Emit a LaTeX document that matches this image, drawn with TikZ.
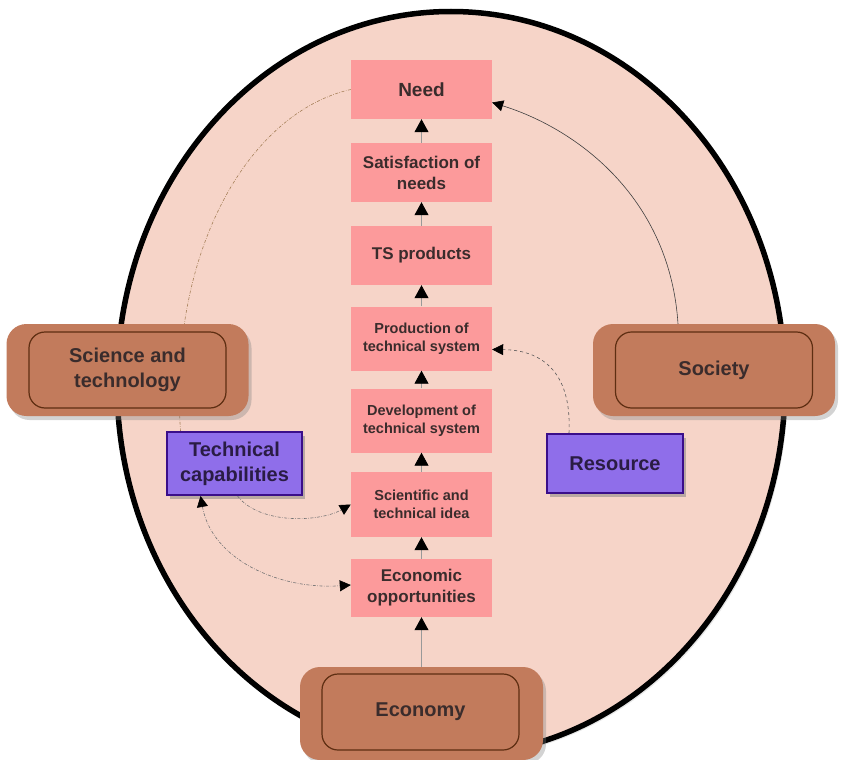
\documentclass[tikz,border=0pt]{standalone}
\usepackage{fontspec}
\setmainfont{Liberation Sans}
\usetikzlibrary{arrows.meta,shadows,shapes.geometric}
\definecolor{ellfill}{HTML}{F6D4C8}
\definecolor{pinkbox}{HTML}{FC9A9B}
\definecolor{brownfill}{HTML}{C27B5C}
\definecolor{brownline}{HTML}{5E2E12}
\definecolor{purplefill}{HTML}{8F6EEA}
\definecolor{purpleline}{HTML}{3A0E8A}
\definecolor{txt}{HTML}{3A2C2C}
\definecolor{ptxt}{HTML}{2A1C44}
\begin{document}
\begin{tikzpicture}[x=1pt,y=-1pt,
  stage/.style={rectangle, fill=pinkbox, minimum width=141pt, inner sep=0pt, align=center, text=txt},
  fbig/.style={font=\bfseries\fontsize{19}{23}\selectfont},
  fmid/.style={font=\bfseries\fontsize{17}{21}\selectfont},
  fsmall/.style={font=\bfseries\fontsize{14.5}{17.5}\selectfont},
  flarge/.style={font=\bfseries\fontsize{20}{25}\selectfont},
  brownout/.style={rectangle, rounded corners=20pt, fill=brownfill, minimum width=242pt, minimum height=92pt, inner sep=0pt,
    drop shadow={opacity=0.35, shadow xshift=3pt, shadow yshift=-4pt}},
  brownin/.style={rectangle, rounded corners=16pt, draw=brownline, line width=1.2pt, minimum width=197pt, minimum height=76pt, inner sep=0pt, align=center, text=txt, flarge},
  purplebox/.style={rectangle, fill=purplefill, draw=purpleline, line width=2pt, inner sep=0pt, align=center, text=ptxt, flarge,
    drop shadow={opacity=0.3, shadow xshift=3pt, shadow yshift=-4pt}},
  bigtip/.style={-{Triangle[width=14pt,length=13pt,color=black]}},
  tip/.style={-{Triangle[width=11pt,length=11pt,color=black]}},
  uplink/.style={draw=gray!80, line width=0.9pt, bigtip},
  dashdot/.style={dash pattern=on 3pt off 1.5pt on 0.6pt off 1.5pt},
]
\useasboundingbox (0,0) rectangle (841,760);

% big oval
\node[ellipse, minimum width=668pt, minimum height=744pt, inner sep=0pt, fill=ellfill, draw=black, line width=5.5pt,
  drop shadow={opacity=0.2, shadow xshift=3pt, shadow yshift=-3pt}] (oval) at (451,383.5) {};

% stages
\node[stage, fbig,   minimum height=59pt] (need) at (421.5,89.5) {Need};
\node[stage, fmid,   minimum height=59pt] (sat)  at (421.5,172.5) {Satisfaction of\\needs};
\node[stage, fmid,   minimum height=59pt] (ts)   at (421.5,255.5) {TS products};
\node[stage, fsmall, minimum height=64pt] (prod) at (421.5,338.5) {Production of\\technical system};
\node[stage, fsmall, minimum height=64pt] (dev)  at (421.5,420.5) {Development of\\technical system};
\node[stage, fsmall, minimum height=65pt] (idea) at (421.5,504.5) {Scientific and\\technical idea};
\node[stage, fmid,   minimum height=58pt] (eco)  at (421.5,588) {Economic\\opportunities};

\draw[uplink] (sat) -- (need);
\draw[uplink] (ts) -- (sat);
\draw[uplink] (prod) -- (ts);
\draw[uplink] (dev) -- (prod);
\draw[uplink] (idea) -- (dev);
\draw[uplink] (eco) -- (idea);

% purple boxes (nodes first for names)
\node[purplebox, minimum width=135pt, minimum height=63pt] (tc) at (234.5,463.5) {Technical\\capabilities};
\node[purplebox, minimum width=136pt, minimum height=59pt] (res) at (615,463.5) {Resource};

% arc behind brown boxes
\draw[draw=brown!60!gray, line width=0.6pt, dashdot]
  (need.west) .. controls (250,112) and (168,250) .. ([xshift=-54pt]tc.north);

% brown boxes
\node[brownout] (scio) at (127.5,370) {};
\node[brownin] (sci) at (scio.center) {Science and\\technology};
\node[brownout] (soco) at (714,370) {};
\node[brownin] (soc) at (soco.center) {Society};
\node[brownout, minimum width=243pt, minimum height=93pt] (econo) at (421.5,713.5) {};
\node[brownin] (econ) at (420.5,712) {Economy};

\draw[uplink] (econo.north) -- (eco.south);

% redraw purple boxes on top
\node[purplebox, minimum width=135pt, minimum height=63pt] at (tc.center) {Technical\\capabilities};
\node[purplebox, minimum width=136pt, minimum height=59pt] at (res.center) {Resource};

% other arcs
\draw[draw=black!75, line width=0.6pt, tip]
  ([xshift=-36pt]soco.north) .. controls (670,200) and (580,130) .. ([yshift=-13pt]need.east);
\draw[draw=black!65, line width=0.6pt, dashed, tip]
  ([xshift=-46pt]res.north) .. controls (572,370) and (540,350) .. ([yshift=-11pt]prod.east);
\draw[draw=black!55, line width=0.6pt, dashdot, tip]
  ([xshift=3pt]tc.south) .. controls (260,525) and (320,522) .. (idea.west);
\draw[draw=black!55, line width=0.6pt, dashdot, {Triangle[width=11pt,length=11pt,color=black]}-{Triangle[width=11pt,length=11pt,color=black]}]
  ([xshift=-34pt]tc.south) .. controls (212,560) and (280,590) .. ([yshift=3pt]eco.west);
\end{tikzpicture}
\end{document}
